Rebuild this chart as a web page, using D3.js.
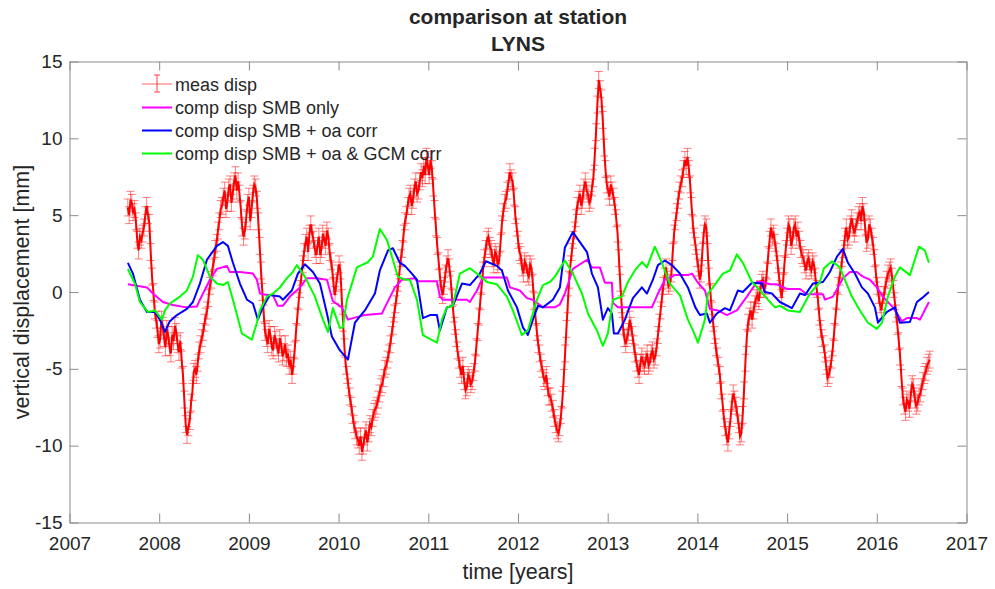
<!DOCTYPE html>
<html lang="en">
<head>
<meta charset="UTF-8">
<title>comparison at station LYNS</title>
<script src="https://d3js.org/d3.v7.min.js"></script>
<style>
    body { margin: 0; background: #fff; }
    svg text { font-family: "Liberation Sans", Arial, Helvetica, sans-serif; fill: #262626; }
</style>
</head>
<body>
<svg id="chart" width="995" height="589"></svg>
<script>
    // measured displacement, regular sampling from measStart every measStep years
    const measStart = 2007.65;
    const measStep = 0.015;
    const measErr = 0.55;
    const measDisp = [
        5.5, 5.0, 6.0, 5.8, 5.2, 5.4, 4.6, 3.4, 2.7, 3.6, 3.4, 3.8, 4.2, 5.0, 5.6, 5.0, 4.5, 2.6, 1.0, 0.0,
        -1.2, -1.8, -2.4, -3.4, -3.1, -1.8, -2.2, -3.0, -3.6, -2.4, -2.8, -3.6, -4.0, -2.8, -3.2, -2.2, -2.6, -3.4, -3.9, -3.2,
        -4.4, -5.4, -7.0, -8.6, -9.3, -8.8, -8.4, -7.2, -6.5, -5.2, -5.0, -5.4, -4.6, -3.8, -3.4, -3.0, -2.6, -2.0, -1.6, -1.2,
        -0.4, 0.4, 0.8, 1.6, 2.0, 2.8, 3.2, 4.0, 4.6, 5.4, 5.6, 6.2, 6.6, 5.4, 5.8, 6.8, 7.0, 5.8, 6.4, 7.2,
        7.6, 6.6, 7.2, 6.4, 5.4, 4.2, 3.6, 4.0, 4.8, 5.8, 6.2, 4.6, 5.4, 6.4, 7.0, 6.8, 6.0, 4.6, 3.0, 1.4,
        0.0, -1.4, -2.6, -3.0, -3.4, -2.4, -2.8, -3.6, -3.8, -2.8, -3.1, -3.6, -4.0, -3.0, -3.4, -4.2, -3.9, -3.4, -4.3, -4.0,
        -4.8, -4.4, -5.4, -4.8, -3.8, -2.6, -1.6, -0.6, 0.2, 1.0, 1.8, 2.6, 3.2, 3.6, 2.6, 3.8, 4.4, 3.8, 3.4, 2.8,
        2.4, 3.0, 3.6, 2.4, 2.8, 3.8, 3.4, 3.0, 4.0, 3.6, 2.6, 2.0, 1.4, 0.4, -0.2, 0.6, 1.2, 1.8, 1.4, -0.4,
        -2.0, -3.6, -4.8, -5.4, -6.2, -6.8, -7.4, -8.0, -8.6, -9.0, -9.4, -9.6, -10.0, -9.4, -10.4, -10.0, -9.4, -9.0, -9.8, -9.2,
        -8.6, -8.8, -8.2, -7.8, -7.6, -7.4, -7.0, -6.6, -6.2, -6.0, -5.6, -5.0, -4.8, -4.4, -4.0, -3.4, -2.8, -2.2, -1.4, -0.8,
        -0.2, 0.6, 1.4, 2.2, 2.8, 3.8, 4.6, 5.0, 5.6, 6.2, 6.4, 5.6, 6.0, 6.8, 7.2, 6.4, 6.6, 7.2, 7.8, 7.4,
        8.2, 7.6, 8.8, 8.2, 7.6, 8.6, 8.0, 6.8, 5.4, 4.2, 3.0, 2.0, 1.0, 0.2, -0.2, 0.4, 1.2, 1.8, 2.2, 1.6,
        0.8, -0.4, -1.4, -2.2, -3.0, -3.8, -4.4, -5.0, -5.4, -4.8, -5.8, -6.4, -6.2, -5.4, -5.6, -6.0, -5.8, -5.2, -4.6, -3.6,
        -2.6, -1.6, -0.6, 0.4, 1.4, 2.2, 2.8, 3.4, 3.6, 3.0, 2.8, 2.2, 1.8, 2.6, 2.4, 1.8, 2.0, 3.2, 4.4, 5.2,
        5.8, 6.0, 6.6, 7.2, 7.8, 7.4, 7.2, 6.2, 5.0, 4.2, 3.4, 2.6, 2.4, 1.6, 1.2, 2.0, 1.8, 1.2, 1.0, 1.8,
        1.6, 0.6, -0.6, -1.6, -2.6, -3.4, -4.0, -4.6, -5.0, -5.6, -5.8, -5.4, -6.2, -6.8, -6.8, -7.2, -7.6, -8.2, -8.6, -9.0,
        -9.2, -8.8, -8.0, -7.0, -5.6, -4.0, -2.4, -0.8, 0.8, 1.8, 2.6, 3.4, 4.0, 4.8, 5.6, 6.0, 6.4, 5.6, 6.0, 6.8,
        7.2, 6.6, 6.4, 5.8, 6.0, 6.8, 7.4, 8.8, 10.4, 12.2, 13.8, 13.2, 12.6, 11.2, 9.4, 8.0, 7.0, 6.6, 6.2, 7.0,
        6.6, 6.2, 5.6, 4.8, 3.8, 2.2, 0.6, -0.8, -2.2, -3.0, -3.4, -3.0, -2.6, -1.8, -2.2, -2.8, -3.4, -4.0, -4.6, -5.0,
        -5.4, -4.6, -4.2, -4.6, -4.8, -4.4, -4.0, -4.8, -4.6, -4.0, -3.8, -4.4, -4.2, -3.6, -2.8, -2.0, -1.2, -0.4, 0.4, 1.0,
        1.6, 0.8, 0.4, 0.6, 1.2, 2.6, 3.8, 4.6, 5.2, 6.0, 6.6, 7.0, 7.4, 8.0, 8.6, 8.2, 8.8, 8.0, 7.0, 5.6,
        4.4, 3.6, 3.0, 2.2, 1.6, 0.8, 1.2, 2.6, 3.8, 4.4, 4.2, 2.6, 1.0, 0.0, -1.2, -2.0, -2.8, -3.6, -4.2, -4.8,
        -5.4, -6.4, -7.2, -8.2, -8.8, -9.4, -9.8, -9.0, -8.2, -7.2, -6.6, -7.0, -7.4, -8.0, -8.6, -9.4, -9.2, -8.0, -6.4, -4.6,
        -3.0, -2.0, -1.6, -1.2, -1.8, -1.2, -0.8, -0.4, -0.2, -0.6, 0.2, 0.6, 0.8, 0.2, 0.4, 1.4, 2.4, 3.4, 4.2, 3.6,
        3.8, 3.2, 2.6, 1.8, 1.0, 0.2, -0.4, 0.6, 1.8, 2.8, 3.6, 4.4, 4.2, 3.0, 3.4, 4.2, 4.4, 3.6, 4.0, 3.4,
        2.8, 2.4, 2.2, 1.8, 1.4, 2.0, 2.2, 1.6, 1.4, 2.0, 1.8, 1.0, 0.2, -0.6, -1.6, -2.4, -3.0, -3.4, -4.0, -4.8,
        -5.6, -5.4, -5.0, -4.4, -3.6, -2.6, -1.6, -0.6, 0.4, 1.0, 1.4, 2.2, 2.8, 3.6, 4.2, 3.4, 3.6, 4.4, 4.8, 4.2,
        3.8, 4.2, 4.6, 5.0, 5.2, 4.6, 5.6, 5.2, 4.2, 3.2, 3.4, 4.4, 4.2, 3.6, 3.0, 2.2, 1.2, 0.4, -0.2, -0.8,
        -1.2, -0.6, -0.2, 0.4, 0.8, 1.2, 1.4, 1.6, 1.0, 0.2, -0.6, -1.4, -2.2, -3.2, -4.2, -5.6, -6.8, -7.4, -7.8, -7.0,
        -7.2, -7.6, -6.6, -6.0, -6.2, -7.0, -7.4, -7.2, -6.8, -6.6, -6.2, -5.8, -5.4, -5.2, -4.8, -4.6, -4.4
    ];

    // computed displacement [year, mm]
    const smbOnly = [
        [2007.651, 0.5], [2007.863, 0.3], [2007.930, -0.1], [2008.041, -0.65], [2008.153, -0.85],
        [2008.300, -1.0], [2008.420, -0.95], [2008.454, -0.5], [2008.565, 0.8], [2008.643, 1.5],
        [2008.755, 1.7], [2008.788, 1.3], [2008.900, 1.3], [2009.045, 1.2], [2009.089, 0.8],
        [2009.123, -0.1], [2009.201, -0.2], [2009.268, -0.2], [2009.323, -0.9], [2009.379, -0.9],
        [2009.457, -0.3], [2009.569, 0.3], [2009.647, 0.9], [2009.758, 0.9], [2009.870, 0.8],
        [2009.936, -0.6], [2010.037, -1.0], [2010.104, -1.8], [2010.160, -1.7], [2010.293, -1.5],
        [2010.483, -1.4], [2010.516, -1.0], [2010.628, 0.3], [2010.706, 0.8], [2010.851, 0.9],
        [2010.873, 0.7], [2011.096, 0.7], [2011.129, -0.3], [2011.163, -0.5], [2011.430, -0.5],
        [2011.464, -0.65], [2011.542, 0.1], [2011.609, 0.95], [2011.876, 0.95], [2011.910, 0.3],
        [2012.021, 0.1], [2012.099, -0.4], [2012.166, -0.5], [2012.278, -1.0], [2012.411, -1.0],
        [2012.467, -0.8], [2012.523, -0.1], [2012.612, 1.5], [2012.769, 2.1], [2012.824, 1.6],
        [2012.913, 1.6], [2012.969, 0.6], [2013.047, 0.6], [2013.058, -0.7], [2013.114, -1.0],
        [2013.493, -1.0], [2013.560, -0.1], [2013.638, 0.8], [2013.749, 1.1], [2013.894, 1.1],
        [2013.939, 1.2], [2014.006, 0.6], [2014.084, 0.1], [2014.139, -1.1], [2014.228, -1.2],
        [2014.329, -1.5], [2014.440, -1.2], [2014.552, -0.3], [2014.663, 0.65], [2014.730, 0.65],
        [2014.808, 0.5], [2014.886, 0.5], [2014.998, 0.2], [2015.143, 0.2], [2015.221, -0.15],
        [2015.400, -0.15], [2015.422, -0.5], [2015.511, -0.3], [2015.622, 0.9], [2015.700, 1.3],
        [2015.779, 1.3], [2015.845, 1.0], [2015.923, 0.8], [2016.001, 0.3], [2016.068, -0.3],
        [2016.180, -1.0], [2016.280, -1.9], [2016.336, -1.7], [2016.447, -1.7], [2016.481, -1.8],
        [2016.581, -0.65]
    ];
    const oaCorr = [
        [2007.651, 1.9], [2007.707, 1.2], [2007.785, -0.5], [2007.863, -1.3], [2007.952, -1.3],
        [2008.008, -1.8], [2008.064, -2.6], [2008.119, -1.9], [2008.197, -1.5], [2008.309, -1.1],
        [2008.376, -0.65], [2008.454, 0.55], [2008.532, 2.1], [2008.643, 3.0], [2008.710, 3.25],
        [2008.766, 3.0], [2008.822, 1.9], [2008.900, 0.55], [2008.978, -0.5], [2009.045, -0.75],
        [2009.100, -1.8], [2009.156, -1.0], [2009.234, -0.2], [2009.346, -0.3], [2009.379, -0.5],
        [2009.479, 0.1], [2009.546, 1.2], [2009.624, 1.8], [2009.714, 1.3], [2009.792, 0.55],
        [2009.870, -1.4], [2009.925, -2.9], [2010.015, -3.8], [2010.104, -4.4], [2010.182, -2.0],
        [2010.293, -1.2], [2010.405, -0.1], [2010.460, 1.4], [2010.550, 2.7], [2010.605, 2.85],
        [2010.683, 1.9], [2010.739, 1.7], [2010.817, 1.2], [2010.873, 0.8], [2010.940, -1.7],
        [2011.018, -1.5], [2011.096, -1.5], [2011.129, -2.5], [2011.207, -1.0], [2011.274, -0.9],
        [2011.375, 0.55], [2011.464, 0.45], [2011.575, 1.2], [2011.642, 2.0], [2011.765, 1.7],
        [2011.821, 1.4], [2011.888, 0.1], [2011.988, -1.0], [2012.055, -2.3], [2012.110, -2.8],
        [2012.166, -1.8], [2012.222, -0.9], [2012.278, -1.0], [2012.389, -0.5], [2012.467, 0.3],
        [2012.523, 2.9], [2012.612, 3.9], [2012.690, 3.25], [2012.769, 2.6], [2012.824, 1.2],
        [2012.891, 0.3], [2012.946, -1.8], [2013.002, -1.05], [2013.047, -1.4], [2013.069, -2.7],
        [2013.114, -2.7], [2013.192, -1.8], [2013.281, -0.4], [2013.381, 0.3], [2013.437, -0.1],
        [2013.504, 0.8], [2013.560, 1.75], [2013.638, 2.05], [2013.716, 1.75], [2013.805, 1.2],
        [2013.894, 0.3], [2013.977, -1.0], [2014.028, -1.5], [2014.106, -1.4], [2014.139, -2.0],
        [2014.217, -1.4], [2014.307, -1.05], [2014.363, -1.2], [2014.452, 0.1], [2014.507, 0.0],
        [2014.608, 0.6], [2014.719, 0.55], [2014.752, 0.0], [2014.830, -0.1], [2014.920, -0.65],
        [2015.054, -1.05], [2015.143, -0.1], [2015.199, -0.2], [2015.288, 0.55], [2015.400, 0.65],
        [2015.477, 1.3], [2015.556, 2.3], [2015.622, 2.8], [2015.678, 1.9], [2015.756, 1.2],
        [2015.834, 0.3], [2015.901, -0.1], [2015.979, -1.0], [2016.013, -2.0], [2016.113, -1.3],
        [2016.202, -1.0], [2016.258, -2.0], [2016.369, -1.95], [2016.447, -0.65], [2016.503, -0.4],
        [2016.581, 0.0]
    ];
    const gcmCorr = [
        [2007.651, 1.5], [2007.729, 0.55], [2007.785, -0.65], [2007.874, -1.3], [2007.952, -1.2],
        [2008.030, -1.8], [2008.064, -1.2], [2008.119, -0.75], [2008.231, -0.3], [2008.309, 0.1],
        [2008.376, 1.0], [2008.431, 2.4], [2008.487, 2.1], [2008.565, 1.0], [2008.643, 0.55],
        [2008.710, 0.45], [2008.766, 0.65], [2008.822, -0.5], [2008.922, -2.7], [2009.033, -3.1],
        [2009.089, -2.0], [2009.123, -1.2], [2009.201, -0.3], [2009.268, -0.1], [2009.346, 0.3],
        [2009.424, 0.9], [2009.490, 1.3], [2009.535, 1.75], [2009.624, 1.0], [2009.736, -0.3],
        [2009.825, -1.8], [2009.881, -2.6], [2009.936, -1.05], [2010.015, -2.35], [2010.048, -2.3],
        [2010.093, -0.5], [2010.204, 1.6], [2010.327, 1.95], [2010.382, 2.3], [2010.460, 4.1],
        [2010.538, 3.4], [2010.605, 2.1], [2010.661, 1.0], [2010.739, 0.8], [2010.795, 0.8],
        [2010.873, -0.5], [2010.940, -2.8], [2011.096, -3.3], [2011.152, -1.8], [2011.207, -1.0],
        [2011.274, -0.9], [2011.352, 1.2], [2011.464, 1.55], [2011.553, 1.15], [2011.653, 0.65],
        [2011.765, 0.5], [2011.876, -0.3], [2011.943, -1.2], [2012.043, -2.8], [2012.110, -2.5],
        [2012.211, -0.5], [2012.278, 0.45], [2012.356, 0.65], [2012.411, 1.0], [2012.523, 2.05],
        [2012.612, 1.2], [2012.713, -0.1], [2012.780, -1.4], [2012.880, -2.5], [2012.946, -3.5],
        [2013.002, -2.7], [2013.058, -0.5], [2013.158, -0.3], [2013.225, 0.65], [2013.303, 1.4],
        [2013.381, 1.95], [2013.437, 1.6], [2013.526, 2.95], [2013.604, 1.9], [2013.693, 0.55],
        [2013.805, -0.2], [2013.894, -1.8], [2013.950, -2.5], [2014.006, -3.3], [2014.084, -1.8],
        [2014.117, -0.1], [2014.173, 0.3], [2014.284, 1.2], [2014.363, 1.4], [2014.440, 2.45],
        [2014.507, 1.9], [2014.608, 0.65], [2014.697, 0.1], [2014.786, -0.5], [2014.864, -1.0],
        [2014.920, -0.9], [2015.009, -1.2], [2015.143, -1.3], [2015.254, -0.1], [2015.366, 0.65],
        [2015.411, 1.55], [2015.500, 2.0], [2015.589, 1.6], [2015.644, 0.8], [2015.722, -0.3],
        [2015.812, -1.2], [2015.901, -2.0], [2016.001, -2.4], [2016.057, -2.0], [2016.124, -0.3],
        [2016.202, 1.0], [2016.258, 1.6], [2016.369, 1.1], [2016.470, 2.95], [2016.536, 2.7],
        [2016.581, 1.9]
    ];

    const xTicks = [2007, 2008, 2009, 2010, 2011, 2012, 2013, 2014, 2015, 2016, 2017];
    const yTicks = [-15, -10, -5, 0, 5, 10, 15];
    const legendLabels = ['meas disp', 'comp disp SMB only', 'comp disp SMB + oa corr', 'comp disp SMB + oa & GCM corr'];
    const lineColors = ['#ff00ff', '#0000ff', '#00ff00'];

    const svg = d3.select('#chart');
    const x = d3.scaleLinear().domain([2007, 2017]).range([69.5, 966.5]);
    const y = d3.scaleLinear().domain([-15, 15]).range([522.5, 61.5]);

    const meas = measDisp.map((v, i) => ({ t: measStart + i * measStep, v: v }));

    // error bars
    let eb = '';
    meas.forEach(d => {
        const px = x(d.t), y1 = y(d.v + measErr), y2 = y(d.v - measErr);
        eb += `M${px},${y1}V${y2}M${px - 4},${y1}h8M${px - 4},${y2}h8`;
    });
    svg.append('path')
        .attr('d', eb)
        .attr('fill', 'none')
        .attr('stroke', '#ff0000')
        .attr('stroke-opacity', 0.5)
        .attr('stroke-width', 1);

    const line = d3.line().x(d => x(d[0])).y(d => y(d[1]));

    svg.append('path')
        .attr('d', line(meas.map(d => [d.t, d.v])))
        .attr('fill', 'none')
        .attr('stroke', '#ff0000')
        .attr('stroke-width', 2);

    [smbOnly, oaCorr, gcmCorr].forEach((s, i) => {
        svg.append('path')
            .attr('d', line(s))
            .attr('fill', 'none')
            .attr('stroke', lineColors[i])
            .attr('stroke-width', 2)
            .attr('stroke-linejoin', 'round');
    });

    // axes, matlab style box with inward ticks
    const axisColor = '#8c8c8c';
    function styleAxis(g) {
        g.select('.domain').attr('stroke', axisColor);
        g.selectAll('.tick line').attr('stroke', axisColor);
        g.selectAll('.tick text').style('font-size', '19px').attr('fill', '#262626');
    }
    svg.append('g')
        .attr('transform', `translate(0,${y(-15)})`)
        .call(d3.axisBottom(x).tickValues(xTicks).tickFormat(d => String(d))
            .tickSizeInner(-9).tickSizeOuter(0).tickPadding(14))
        .call(styleAxis);
    svg.append('g')
        .attr('transform', `translate(0,${y(15)})`)
        .call(d3.axisTop(x).tickValues(xTicks).tickFormat('').tickSizeInner(-9).tickSizeOuter(0))
        .call(styleAxis);
    svg.append('g')
        .attr('transform', `translate(${x(2007)},0)`)
        .call(d3.axisLeft(y).tickValues(yTicks).tickFormat(d => String(d))
            .tickSizeInner(-9).tickSizeOuter(0).tickPadding(7))
        .call(styleAxis);
    svg.append('g')
        .attr('transform', `translate(${x(2017)},0)`)
        .call(d3.axisRight(y).tickValues(yTicks).tickFormat('').tickSizeInner(-9).tickSizeOuter(0))
        .call(styleAxis);

    // titles and labels
    svg.append('text')
        .attr('x', 518).attr('y', 24)
        .attr('text-anchor', 'middle')
        .style('font-size', '21px').style('font-weight', 'bold')
        .text('comparison at station');
    svg.append('text')
        .attr('x', 518).attr('y', 51)
        .attr('text-anchor', 'middle')
        .style('font-size', '21px').style('font-weight', 'bold')
        .text('LYNS');
    svg.append('text')
        .attr('x', 518).attr('y', 579)
        .attr('text-anchor', 'middle')
        .style('font-size', '21.5px')
        .text('time [years]');
    svg.append('text')
        .attr('transform', 'translate(29,292) rotate(-90)')
        .attr('text-anchor', 'middle')
        .style('font-size', '21.5px')
        .text('vertical displacement [mm]');

    // legend
    const legendRowY = [84, 107.5, 130.5, 153.5];
    const legend = svg.append('g');
    legendLabels.forEach((label, i) => {
        const ly = legendRowY[i];
        if (i === 0) {
            legend.append('line')
                .attr('x1', 142).attr('x2', 172).attr('y1', ly).attr('y2', ly)
                .attr('stroke', '#ffb0b0').attr('stroke-width', 2);
            legend.append('path')
                .attr('d', `M157,${ly - 9}V${ly + 8}M154,${ly - 9}h6M154,${ly + 8}h6`)
                .attr('fill', 'none')
                .attr('stroke', '#ff4040').attr('stroke-width', 1);
        } else {
            legend.append('line')
                .attr('x1', 142).attr('x2', 172).attr('y1', ly).attr('y2', ly)
                .attr('stroke', lineColors[i - 1]).attr('stroke-width', 2);
        }
        legend.append('text')
            .attr('x', 175).attr('y', ly + 6.5)
            .style('font-size', '18px')
            .text(label);
    });
</script>
</body>
</html>
